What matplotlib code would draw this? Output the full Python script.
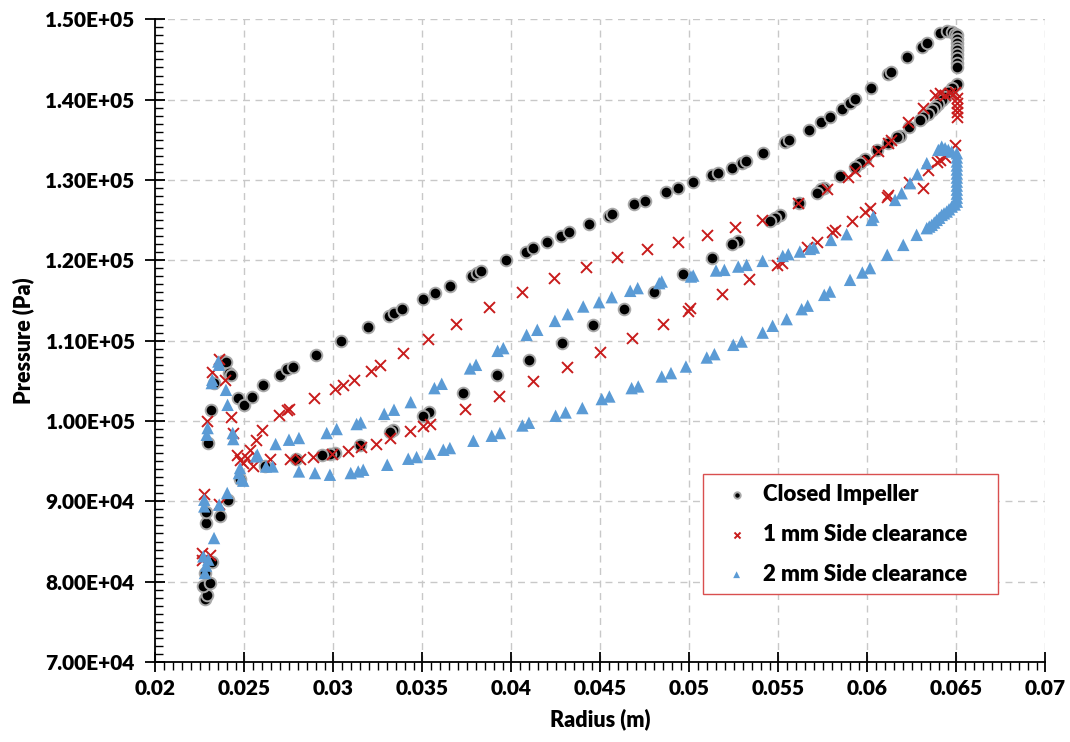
import matplotlib
matplotlib.use("Agg")
import matplotlib.pyplot as plt
from matplotlib.ticker import FuncFormatter, MultipleLocator

# radius (m) / static pressure (Pa) along the impeller passage, three geometries
closed_r = [
    0.02278, 0.02288, 0.02269, 0.02306, 0.02280, 0.02316, 0.02282, 0.02284, 0.02362, 0.02409,
    0.02475, 0.02297, 0.02312, 0.02329, 0.02381, 0.02395, 0.02415, 0.02422,
    0.02465, 0.02499, 0.02544, 0.02606, 0.02700, 0.02737, 0.02771, 0.02900, 0.03040, 0.03192,
    0.03312, 0.03340, 0.03387, 0.03501, 0.03570, 0.03654, 0.03776, 0.03804, 0.03829, 0.03967,
    0.04080, 0.04123, 0.04198, 0.04278, 0.04325, 0.04435, 0.04550, 0.04563, 0.04690, 0.04750,
    0.04868, 0.04934, 0.05021, 0.05125, 0.05162, 0.05237, 0.05293, 0.05317, 0.05415, 0.05536,
    0.05560, 0.05673, 0.05739, 0.05789, 0.05855, 0.05902, 0.05930, 0.06018, 0.06117, 0.06132,
    0.06224, 0.06305, 0.06333, 0.06407, 0.06445, 0.06473, 0.06492,
    0.06502, 0.06502, 0.06502, 0.06502, 0.06502, 0.06502, 0.06502, 0.06502, 0.06502, 0.06502,
    0.06473, 0.06454, 0.06436, 0.06417, 0.06398, 0.06379, 0.06361, 0.06342, 0.06313, 0.06295,
    0.06235, 0.06180, 0.06164, 0.06117, 0.06055, 0.05986, 0.05958, 0.05930, 0.05846, 0.05757,
    0.05739, 0.05715, 0.05615, 0.05508, 0.05480, 0.05452, 0.05274, 0.05237, 0.05125, 0.04965,
    0.04801, 0.04632, 0.04456, 0.04282, 0.04100, 0.03917, 0.03729, 0.03538, 0.03505, 0.03336,
    0.03317, 0.03149, 0.03009, 0.02981, 0.02934, 0.02789, 0.02615,
]
closed_p = [
    77850, 78380, 79420, 79840, 81080, 82400, 87300, 88620, 88120, 90200,
    92770, 97250, 101400, 104720, 107500, 107400, 105960, 105710,
    102850, 101930, 102980, 104500, 105750, 106460, 106780, 108240, 109900, 111640,
    113090, 113430, 113920, 115170, 115910, 116820, 118070, 118400, 118650, 119980,
    121090, 121510, 122260, 123040, 123500, 124530, 125570, 125780, 126990, 127430,
    128480, 129050, 129800, 130630, 130920, 131540, 132160, 132410, 133330, 134700,
    134980, 136230, 137190, 137810, 138840, 139550, 140080, 141420, 143160, 143480,
    145270, 146590, 147090, 148330, 148580, 148460, 148170,
    148050, 147500, 147010, 146600, 146180, 145700, 145150, 144600, 144100, 141950,
    141420, 141000, 140380, 139970, 139470, 139060, 138720, 138220, 137810, 137470,
    136640, 135480, 135400, 134650, 133740, 132580, 132160, 131660, 130500, 129050,
    128850, 128430, 127190, 125650, 125240, 124910, 122420, 122010, 120340, 118280,
    116110, 113920, 111890, 109770, 107620, 105670, 103470, 101110, 100650, 98910,
    98580, 97040, 96010, 95890, 95800, 95260, 94340,
]

side1_r = [
    0.02260, 0.02263, 0.02306, 0.02274, 0.02358, 0.02288, 0.02316, 0.02357, 0.02390, 0.02424,
    0.02437,
    0.02456, 0.02475, 0.02493, 0.02549, 0.02643, 0.02756, 0.02812, 0.02887, 0.02990, 0.03083,
    0.03155, 0.03239, 0.03317, 0.03430, 0.03504, 0.03542, 0.03739, 0.03932, 0.04123, 0.04310,
    0.04497, 0.04675, 0.04850, 0.04993, 0.05003, 0.05181, 0.05336, 0.05490, 0.05518, 0.05658,
    0.05715, 0.05800, 0.05818, 0.05911, 0.05986, 0.06014, 0.06108, 0.06117, 0.06235, 0.06310,
    0.06342, 0.06389, 0.06407, 0.06435, 0.06492,
    0.02512, 0.02531, 0.02565, 0.02600, 0.02696, 0.02737, 0.02750, 0.02892, 0.03008, 0.03052,
    0.03117, 0.03211, 0.03261, 0.03392, 0.03529, 0.03687, 0.03874, 0.04057, 0.04241, 0.04417,
    0.04591, 0.04760, 0.04937, 0.05097, 0.05256, 0.05406, 0.05612, 0.05771, 0.05892, 0.05930,
    0.06004, 0.06060, 0.06117, 0.06132, 0.06229, 0.06310, 0.06379, 0.06407, 0.06435, 0.06463,
    0.06492, 0.06502, 0.06502, 0.06502, 0.06502, 0.06502,
]
side1_p = [
    82740, 83580, 83360, 90950, 89700, 99940, 106160, 107740, 105130, 100490,
    98500,
    95800, 95180, 94770, 94440, 95270, 95270, 95270, 95510, 95930, 96210,
    96760, 97170, 97880, 98700, 99320, 99620, 101520, 103140, 105010, 106660,
    108530, 110320, 112100, 113750, 114040, 115780, 117650, 119430, 119720, 121710,
    122330, 123580, 123790, 124910, 126070, 126560, 127930, 128140, 129800, 128980,
    131250, 132290, 132500, 132910, 134360,
    95390, 96420, 97670, 98900, 100780, 101400, 101520, 102850, 103970, 104420,
    105130, 106250, 106910, 108450, 110190, 112060, 114170, 116110, 117850, 119220,
    120470, 121380, 122340, 123170, 124200, 125040, 127110, 128850, 130420, 131130,
    132410, 133620, 134650, 134980, 137260, 138930, 140580, 140790, 140580, 140790,
    140990, 140210, 139600, 139000, 138470, 137880,
]

side2_r = [
    0.02278, 0.02284, 0.02269, 0.02297, 0.02329, 0.02274, 0.02274, 0.02358, 0.02403, 0.02288,
    0.02293, 0.02316, 0.02319, 0.02353, 0.02357, 0.02396, 0.02405, 0.02434, 0.02437,
    0.02469, 0.02475, 0.02484, 0.02493, 0.02565, 0.02572, 0.02621, 0.02658,
    0.02675, 0.02750, 0.02806, 0.02962, 0.03018, 0.03130, 0.03153, 0.03285, 0.03340, 0.03434,
    0.03567, 0.03608, 0.03767, 0.03801, 0.03922, 0.03954, 0.04085, 0.04145, 0.04244, 0.04316,
    0.04403, 0.04492, 0.04563, 0.04667, 0.04709, 0.04830, 0.04844, 0.05008, 0.05021, 0.05149,
    0.05196, 0.05274, 0.05321, 0.05411, 0.05524, 0.05555, 0.05620, 0.05677, 0.05699, 0.05795,
    0.05883, 0.06024, 0.06033, 0.06155, 0.06192, 0.06239, 0.06280, 0.06333, 0.06398, 0.06417,
    0.06436, 0.06454, 0.06473,
    0.06502, 0.06502, 0.06502, 0.06502, 0.06502, 0.06502, 0.06502, 0.06502, 0.06502, 0.06502,
    0.06502, 0.06502, 0.06502,
    0.06490, 0.06473, 0.06458, 0.06445, 0.06430, 0.06417, 0.06403, 0.06389, 0.06375, 0.06361,
    0.06347, 0.06333, 0.06276, 0.06201, 0.06111, 0.06014, 0.05971, 0.05902, 0.05789, 0.05757,
    0.05664, 0.05630, 0.05546, 0.05467, 0.05411, 0.05293, 0.05246, 0.05140, 0.05097, 0.04980,
    0.04896, 0.04844, 0.04712, 0.04675, 0.04550, 0.04507, 0.04398, 0.04304, 0.04248, 0.04098,
    0.04061, 0.03935, 0.03889, 0.03786, 0.03654, 0.03617, 0.03542, 0.03467, 0.03420, 0.03302,
    0.03167, 0.03139, 0.03097, 0.02980, 0.02896, 0.02806,
]
side2_p = [
    81080, 82000, 83150, 82740, 85430, 89370, 90200, 89580, 91040, 98290,
    99120, 104720, 105130, 107400, 107000, 103880, 102010, 98500, 97750,
    93520, 94140, 92900, 92570, 95590, 95800, 94340, 94340,
    97130, 97670, 97880, 98500, 99000, 99620, 99820, 100890, 101400, 102350,
    104090, 104630, 106540, 106990, 108730, 109070, 110710, 111350, 112460, 113300,
    114250, 114790, 115410, 116200, 116540, 117160, 117360, 117980, 118100, 118730,
    118810, 119220, 119430, 119930, 120550, 120760, 121090, 121420, 121590, 122540,
    123250, 125030, 125440, 127520, 128350, 129600, 130710, 132090, 133740, 134150,
    133950, 133740, 133530,
    133330, 132800, 132300, 131800, 131300, 130800, 130300, 129800, 129300, 128800,
    128300, 127800, 127300,
    126950, 126690, 126350, 126070, 125850, 125650, 125300, 125030, 124700, 124410,
    124200, 124000, 123170, 121920, 120680, 119030, 118480, 117570, 116110, 115700,
    114350, 113920, 112680, 111850, 111000, 109890, 109480, 108320, 107900, 106780,
    105960, 105540, 104300, 104090, 103050, 102730, 101610, 101060, 100650, 99780,
    99440, 98500, 98160, 97540, 96630, 96420, 95930, 95510, 95300, 94550,
    93930, 93720, 93520, 93310, 93520, 93720,
]

FONT = ["Lato", "DejaVu Sans"]
plt.rcParams["font.family"] = FONT
plt.rcParams["font.weight"] = "heavy"

fig = plt.figure(figsize=(10.7, 7.42), dpi=100)
ax = fig.add_axes([0.1453, 0.1078, 0.8318, 0.8662])

ax.scatter(closed_r, closed_p, s=70, marker="o", color="black",
           edgecolors="#a8a8a8", linewidths=1.4, zorder=3, label="Closed Impeller")
ax.scatter(side1_r, side1_p, s=62, marker="x", color="#c81c1c",
           linewidths=1.4, zorder=4, label="1 mm Side clearance")
ax.scatter(side2_r, side2_p, s=80, marker="^", color="#5b9bd5",
           edgecolors="none", zorder=5, label="2 mm Side clearance")

ax.set_xlim(0.02, 0.07)
ax.set_ylim(70000, 150000)
ax.xaxis.set_major_locator(MultipleLocator(0.005))
ax.xaxis.set_minor_locator(MultipleLocator(0.0005))
ax.yaxis.set_major_locator(MultipleLocator(10000))
ax.yaxis.set_minor_locator(MultipleLocator(1000))
ax.xaxis.set_major_formatter(FuncFormatter(lambda v, _: f"{v:g}"))
ax.yaxis.set_major_formatter(FuncFormatter(lambda v, _: f"{v:.2E}"))

ax.grid(True, which="major", color="#c8c8c8", linestyle=(0, (5, 4)), linewidth=1.0)
ax.set_axisbelow(True)
for side in ("top", "right"):
    ax.spines[side].set_visible(False)
for side in ("left", "bottom"):
    ax.spines[side].set_linewidth(1.3)

ax.tick_params(axis="x", which="major", direction="inout", length=14, width=1.3,
               labelsize=15, pad=5)
ax.tick_params(axis="y", which="major", direction="inout", length=14, width=1.3,
               labelsize=15, pad=8)
ax.tick_params(axis="x", which="minor", direction="out", length=6, width=1.0)
ax.tick_params(axis="y", which="minor", direction="in", length=6, width=1.0)
for lab in ax.get_xticklabels() + ax.get_yticklabels():
    lab.set_fontweight("heavy")

ax.set_xlabel("Radius (m)", fontsize=15.5, fontweight="heavy", labelpad=8)
ax.set_ylabel("Pressure (Pa)", fontsize=15.5, fontweight="heavy", labelpad=8)

# legend box pinned to the lower right, red outline
leg = ax.legend(loc="lower left", bbox_to_anchor=(0.615, 0.106, 0.332, 0.189),
                mode="expand", borderaxespad=0, fancybox=False, frameon=True,
                markerscale=0.55, handlelength=2.2, handletextpad=0.1,
                borderpad=0.42, labelspacing=0.85,
                prop={"family": FONT, "weight": "heavy", "size": 16})
leg.get_frame().set_edgecolor("#d94f4f")
leg.get_frame().set_linewidth(1.0)
leg.get_frame().set_alpha(1.0)

fig.savefig("out.png", dpi=100)
